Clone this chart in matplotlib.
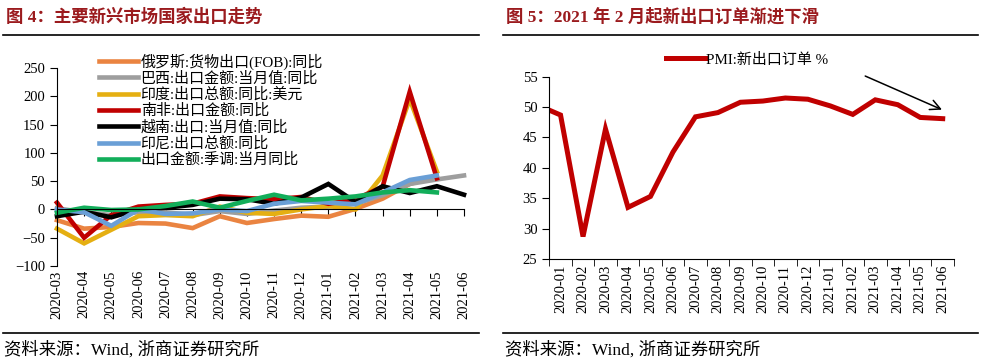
import matplotlib

matplotlib.use("Agg")
import matplotlib.pyplot as plt
from matplotlib.lines import Line2D

plt.rcParams["font.family"] = ["Liberation Serif", "Noto Sans CJK SC"]

# ---- left panel data: emerging market export growth (%) ----
months_l = ["2020-03", "2020-04", "2020-05", "2020-06", "2020-07", "2020-08",
            "2020-09", "2020-10", "2020-11", "2020-12", "2021-01", "2021-02",
            "2021-03", "2021-04", "2021-05", "2021-06"]
russia = [-19, -34, -31, -24, -25, -33, -12, -24, -17, -11, -13, 1, 19, 45, 58]
brazil = [2, -5, -10, -5, -5, -10, -3, -8, -2, 3, 5, 10, 25, 45, 53, 60]
india = [-34, -60, -36, -12, -10, -12, 5, -6, -8, 0, 6, 0, 60, 195, 67]
s_africa = [12, -50, -10, 5, 8, 10, 23, 20, 18, 22, 10, 18, 40, 208, 55]
vietnam = [-12, -4, -14, 0, 3, 8, 19, 18, 10, 21, 45, 13, 41, 29, 41, 26]
indonesia = [0, -5, -29, 0, -8, -7, 0, -3, 10, 15, 12, 9, 30, 52, 60]
export_sa = [-6, 3, -1, 0, 6, 14, 3, 15, 26, 16, 19, 23, 30, 34, 30]

names_l = ["俄罗斯:货物出口(FOB):同比", "巴西:出口金额:当月值:同比",
           "印度:出口总额:同比:美元", "南非:出口金额:同比",
           "越南:出口:当月值:同比", "印尼:出口总额:同比",
           "出口金额:季调:当月同比"]
series_l = [russia, brazil, india, s_africa, vietnam, indonesia, export_sa]
colors_l = ["#EA8441", "#9E9E9E", "#E5AF12", "#C00000", "#000000",
            "#6A9FD6", "#12AE5A"]

# ---- right panel data: PMI new export orders (2019-12 only feeds the clipped edge) ----
months_r = ["2019-12", "2020-01", "2020-02", "2020-03", "2020-04", "2020-05",
            "2020-06", "2020-07", "2020-08", "2020-09", "2020-10", "2020-11",
            "2020-12", "2021-01", "2021-02", "2021-03", "2021-04", "2021-05",
            "2021-06"]
pmi_export = [50.3, 48.7, 28.7, 46.4, 33.5, 35.3, 42.6, 48.4, 49.1, 50.8,
              51.0, 51.5, 51.3, 50.2, 48.8, 51.2, 50.4, 48.3, 48.1]

TITLE_RED = "#9B1B1E"
TICK_FS = 10.5

fig = plt.figure(figsize=(9.86, 3.62), dpi=100)

# titles, rules and source notes
fig.text(0.006, 0.953, "图 4：主要新兴市场国家出口走势", color=TITLE_RED,
         fontsize=12.5, fontweight="bold", va="center", ha="left")
fig.text(0.513, 0.953, "图 5：2021 年 2 月起新出口订单渐进下滑", color=TITLE_RED,
         fontsize=12.5, fontweight="bold", va="center", ha="left")
for x0, x1 in [(0.003, 0.486), (0.510, 0.992)]:
    fig.add_artist(Line2D([x0, x1], [0.903, 0.903], color="black", lw=1.2))
    fig.add_artist(Line2D([x0, x1], [0.080, 0.080], color="black", lw=1.2))
fig.text(0.004, 0.033, "资料来源：Wind, 浙商证券研究所", fontsize=12.5,
         va="center", ha="left")
fig.text(0.512, 0.033, "资料来源：Wind, 浙商证券研究所", fontsize=12.5,
         va="center", ha="left")

# ---- left chart ----
ax = fig.add_axes([0.0578, 0.2652, 0.4128, 0.547])
xl = list(range(len(months_l)))
for name, vals, c in zip(names_l, series_l, colors_l):
    ax.plot(xl[:len(vals)], vals, color=c, lw=3.3, label=name,
            solid_joinstyle="miter", clip_on=False)
ax.set_xlim(0, len(months_l) - 1)
ax.set_ylim(-100, 250)
ax.set_yticks(range(-100, 251, 50))
ax.spines["top"].set_visible(False)
ax.spines["right"].set_visible(False)
ax.spines["bottom"].set_position(("data", 0))
ax.set_xticks(xl)
ax.tick_params(axis="x", direction="out", length=5, labelbottom=False)
ax.tick_params(axis="y", direction="out", length=5, labelsize=TICK_FS)
sec = ax.secondary_xaxis("bottom")
sec.set_xticks(xl)
sec.set_xticklabels(months_l, rotation=90, fontsize=TICK_FS)
sec.tick_params(length=0, pad=3)
sec.spines["bottom"].set_visible(False)

ax.legend(loc="upper left", bbox_to_anchor=(0.100, 0.853),
          bbox_transform=fig.transFigure, frameon=False,
          fontsize=10.8, handlelength=2.6, handletextpad=0.2,
          labelspacing=0.12, borderpad=0, borderaxespad=0)

# ---- right chart ----
ax2 = fig.add_axes([0.5571, 0.2845, 0.4104, 0.5035])
xr = [i - 1 for i in range(len(months_r))]
ax2.plot(xr, pmi_export, color="#C00000", lw=3.6,
         label="PMI:新出口订单 %", solid_joinstyle="miter")
ax2.set_xlim(-0.5, len(months_r) - 1.5)
ax2.set_ylim(25, 55)
ax2.set_yticks(range(25, 56, 5))
ax2.spines["top"].set_visible(False)
ax2.spines["right"].set_visible(False)
ax2.set_xticks(xr[1:])
ax2.set_xticklabels(months_r[1:], rotation=90, fontsize=TICK_FS)
ax2.set_xticks([x - 0.5 for x in xr[1:]] + [xr[-1] + 0.5], minor=True)
ax2.tick_params(axis="x", which="major", length=0, pad=4)
ax2.tick_params(axis="x", which="minor", direction="out", length=5)
ax2.tick_params(axis="y", direction="out", length=5, labelsize=TICK_FS)
ax2.annotate("", xy=(17.08, 49.4), xytext=(13.44, 55.3),
             arrowprops=dict(arrowstyle="->", color="black", lw=1.1,
                             mutation_scale=18),
             annotation_clip=False)
ax2.legend(loc="center left", bbox_to_anchor=(0.675, 0.835),
           bbox_transform=fig.transFigure, frameon=False,
           fontsize=10.8, handlelength=2.6, handletextpad=0.1,
           borderpad=0, borderaxespad=0)

fig.savefig("out.png", dpi=100)
